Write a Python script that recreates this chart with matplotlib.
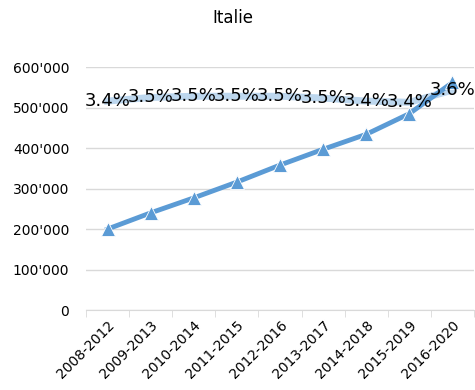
import numpy as np
import matplotlib.pyplot as plt
from matplotlib.ticker import FuncFormatter

# data
periods = ["2008-2012", "2009-2013", "2010-2014", "2011-2015", "2012-2016",
           "2013-2017", "2014-2018", "2015-2019", "2016-2020"]
totals = [200000, 240000, 277000, 316000, 358000, 397000, 434000, 485000, 562000]
shares = [3.44, 3.50, 3.52, 3.52, 3.52, 3.49, 3.44, 3.42, 3.62]  # percent

dark_blue = "#5B9BD5"
light_blue = "#BDD7EE"
grid_grey = "#D9D9D9"

plt.rcParams['font.family'] = ['DejaVu Sans']
fig = plt.figure(figsize=(4.75, 3.9), dpi=100)
ax = fig.add_axes([0.181, 0.205, 0.817, 0.623])
ax2 = ax.twinx()

x = np.arange(len(periods))

# percentage series on the hidden secondary axis, drawn behind
ax2.plot(x, shares, color=light_blue, lw=5, zorder=1)
ax2.set_ylim(0, 4)
ax2.axis('off')

ax.set_zorder(ax2.get_zorder() + 1)
ax.patch.set_visible(False)

ax.plot(x, totals, color=dark_blue, lw=3.5, marker='^', markersize=10,
        markerfacecolor=dark_blue, markeredgecolor='white', markeredgewidth=0.6,
        zorder=3)

for xi, s in zip(x, shares):
    ax.text(xi, s, f"{s:.1f}%", transform=ax2.transData, ha='center', va='center',
            fontsize=13, color='black', zorder=5)

ax.set_xlim(-0.5, len(periods) - 0.5)
ax.set_ylim(0, 600000)
ax.set_yticks(np.arange(0, 600001, 100000))
ax.yaxis.set_major_formatter(FuncFormatter(lambda v, p: "0" if v == 0 else f"{int(v):,}".replace(",", "'")))
ax.grid(axis='y', color=grid_grey, lw=1)
ax.set_axisbelow(True)

ax.set_xticks(x)
ax.set_xticklabels(periods, rotation=45, ha='right', rotation_mode='anchor', fontsize=10)
ax.set_xticks(np.arange(-0.5, len(periods)), minor=True)
ax.tick_params(axis='x', which='major', length=0, pad=6)
ax.tick_params(axis='x', which='minor', length=5, color=grid_grey)
ax.tick_params(axis='y', length=0, labelsize=10, pad=12)

for side in ['top', 'left', 'right']:
    ax.spines[side].set_visible(False)
ax.spines['bottom'].set_color(grid_grey)

fig.text(0.49, 0.953, "Italie", ha='center', va='center', fontsize=12)

fig.savefig("out.png", dpi=100)
